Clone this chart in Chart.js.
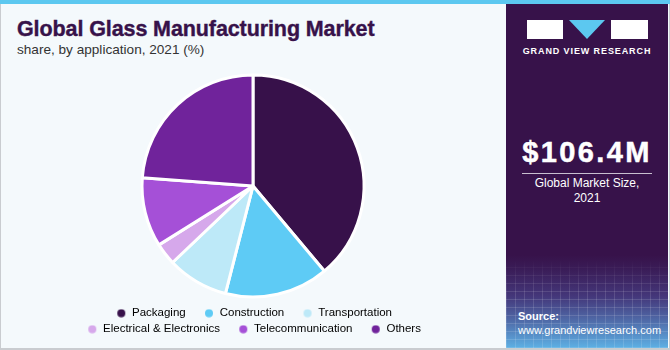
<!DOCTYPE html>
<html>
<head>
<meta charset="utf-8">
<script src="https://cdn.jsdelivr.net/npm/chart.js@4/dist/chart.umd.min.js"></script>
<style>
  html, body { margin: 0; padding: 0; }
  body { width: 670px; height: 350px; overflow: hidden; font-family: "Liberation Sans", Arial, sans-serif; }
  #frame { position: absolute; left: 0; top: 0; width: 670px; height: 350px; background: #f4f9fc; box-sizing: border-box; border-left: 1px solid #c9ccd0; border-right: 1px solid #c9ccd0; border-bottom: 2px solid #c9ccd0; }
  #topbar { position: absolute; left: 0; top: 0; width: 670px; height: 4px; background: #5cc8f0; }
  #title { position: absolute; left: 17px; top: 17px; font-size: 21.5px; font-weight: 900; color: #37124a; letter-spacing: -0.1px; white-space: nowrap; -webkit-text-stroke: 0.4px #37124a; }
  #subtitle { position: absolute; left: 17px; top: 42px; font-size: 13.6px; color: #333; white-space: nowrap; }
  #chartbox { position: absolute; left: 53px; top: 69px; width: 400px; height: 276px; }
  #panel { position: absolute; left: 506px; top: 4px; width: 162px; height: 344px; overflow: hidden;
    background: linear-gradient(to bottom, #37124a 0%, #37124a 73%, #3a1c57 77%, #44377a 85%, #4f6aa8 92%, #5eb0e4 100%); }
  #grid { position: absolute; left: 0; top: 255px; width: 162px; height: 89px;
    background-image: repeating-linear-gradient(90deg, rgba(255,255,255,0.13) 0 1px, transparent 1px 9px),
                      repeating-linear-gradient(0deg, rgba(255,255,255,0.13) 0 1px, transparent 1px 8px);
    -webkit-mask-image: linear-gradient(to bottom, transparent 0%, #000 40%); mask-image: linear-gradient(to bottom, transparent 0%, #000 40%); }
  .logo { position: absolute; top: 16px; height: 19px; background: #fff; }
  #tri { position: absolute; left: 63px; top: 16px; width: 0; height: 0; border-left: 18.5px solid transparent; border-right: 18.5px solid transparent; border-top: 19px solid #5cc8f0; }
  #gvr { position: absolute; left: 0; width: 162px; top: 42px; text-align: center; color: #fff; font-size: 9px; font-weight: bold; letter-spacing: 0.9px; }
  #value { position: absolute; left: 0; width: 162px; top: 132px; text-align: center; color: #fff; font-size: 29px; font-weight: 900; letter-spacing: 2.4px; -webkit-text-stroke: 0.5px #fff; }
  #rule { position: absolute; left: 16px; width: 130px; top: 169px; height: 1px; background: #c8bfd0; }
  #desc { position: absolute; left: 0; width: 162px; top: 172px; text-align: center; color: #fff; font-size: 12px; line-height: 15px; }
  #src { position: absolute; left: 12px; top: 305px; color: #fff; font-size: 11px; line-height: 14px; white-space: nowrap; }
</style>
</head>
<body>
<div id="frame"></div>
<div id="topbar"></div>
<div id="title">Global Glass Manufacturing Market</div>
<div id="subtitle">share, by application, 2021 (%)</div>
<div id="chartbox"><canvas id="c"></canvas></div>
<div id="panel">
  <div id="grid"></div>
  <div class="logo" style="left:21px;width:36px;"></div>
  <div id="tri"></div>
  <div class="logo" style="left:105px;width:37px;"></div>
  <div id="gvr">GRAND VIEW RESEARCH</div>
  <div id="value">$106.4M</div>
  <div id="rule"></div>
  <div id="desc">Global Market Size,<br>2021</div>
  <div id="src"><b>Source:</b><br>www.grandviewresearch.com</div>
</div>
<script>
const categories = ['Packaging', 'Construction', 'Transportation', 'Electrical & Electronics', 'Telecommunication', 'Others'];
const shares = [38.9, 15.1, 8.9, 3.2, 10.1, 23.8];
const sliceColors = ['#37114a', '#5ecbf5', '#bde9f8', '#d6a8eb', '#a550d7', '#70239b'];

function dotImage(color) {
  const cv = document.createElement('canvas');
  cv.width = 18; cv.height = 9;
  const g = cv.getContext('2d');
  g.fillStyle = color;
  g.beginPath();
  g.arc(13, 4.5, 4, 0, Math.PI * 2);
  g.fill();
  return cv;
}
const dots = sliceColors.map(dotImage);

new Chart(document.getElementById('c'), {
  type: 'pie',
  data: {
    labels: categories,
    datasets: [{
      data: shares,
      backgroundColor: sliceColors,
      borderColor: '#ffffff',
      borderWidth: 3,
      radius: 111
    }]
  },
  options: {
    responsive: true,
    maintainAspectRatio: false,
    animation: false,
    layout: { padding: 0 },
    plugins: {
      tooltip: { enabled: false },
      legend: {
        position: 'bottom',
        labels: {
          usePointStyle: true,
          pointStyleWidth: 18,
          boxHeight: 9,
          padding: 4.5,
          color: '#333333',
          font: { family: 'Liberation Sans', size: 11.5 },
          generateLabels: (chart) => categories.map((name, i) => ({
            text: name + '\u2002',
            fillStyle: sliceColors[i],
            strokeStyle: sliceColors[i],
            lineWidth: 0,
            pointStyle: dots[i],
            hidden: false,
            index: i
          }))
        }
      }
    }
  }
});
</script>
</body>
</html>
